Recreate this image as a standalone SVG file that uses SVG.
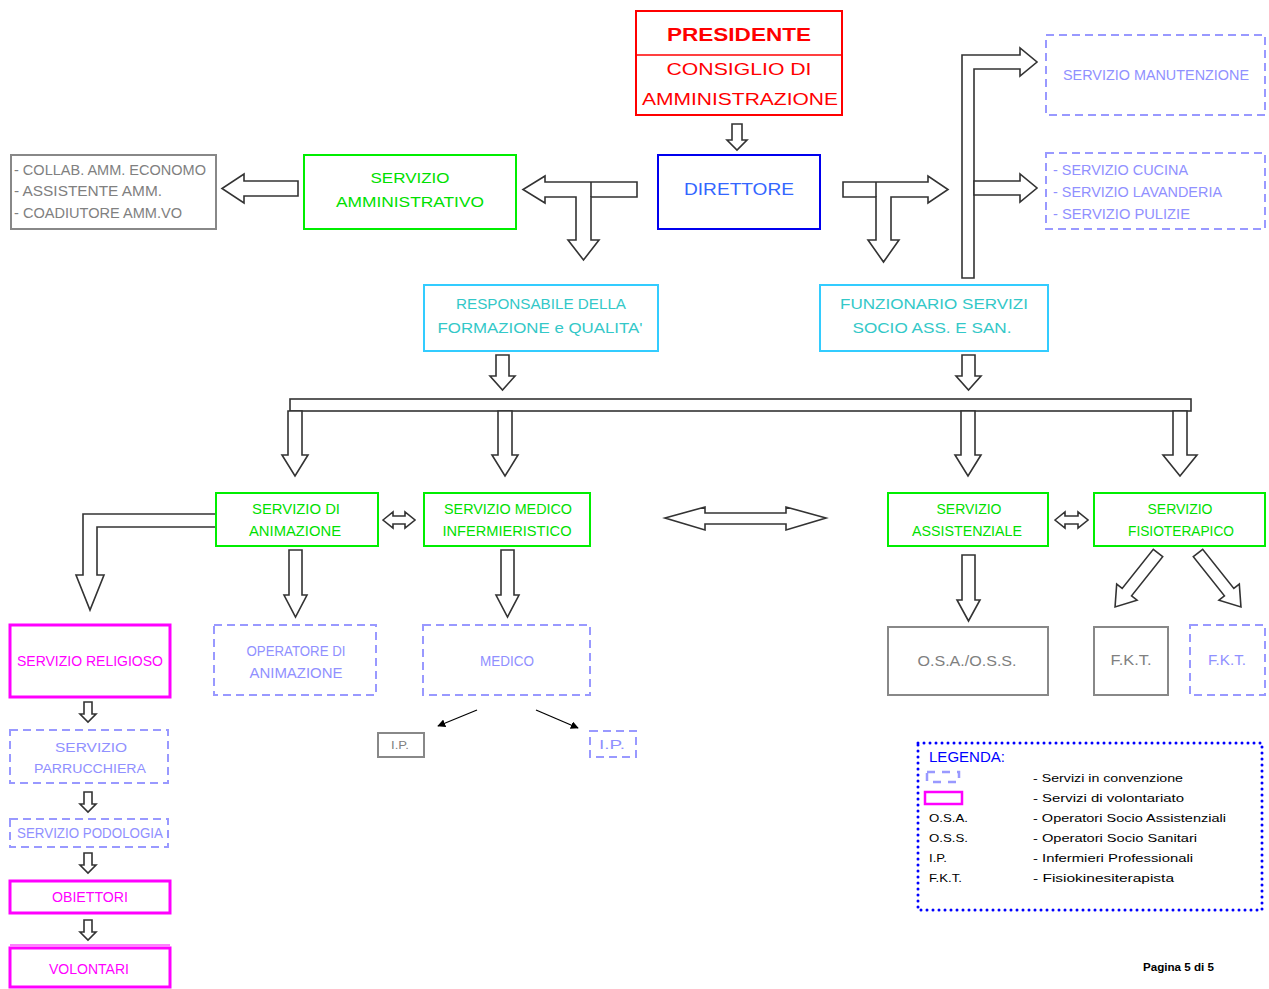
<svg xmlns="http://www.w3.org/2000/svg" width="1269" height="989" viewBox="0 0 1269 989">
<style>
text{font-family:"Liberation Sans",Arial,sans-serif;font-size:14px}
.c{text-anchor:middle}
.red{fill:#ff0000}
.grn{fill:#00e000}
.lav{fill:#9090ff}
.tea{fill:#33c8c8}
.gry{fill:#808080}
.mag{fill:#ff00ff}
.blk{fill:#000}
.bx-g{fill:#fff;stroke:#00ee00;stroke-width:2}
.bx-l{fill:#fff;stroke:#9999ff;stroke-width:2;stroke-dasharray:8 5}
.bx-c{fill:#fff;stroke:#33ccff;stroke-width:2}
.bx-y{fill:#fff;stroke:#888;stroke-width:2}
.bx-m{fill:#fff;stroke:#ff00ff;stroke-width:3}
.ar{fill:#fff;stroke:#333;stroke-width:1.6;stroke-linejoin:miter}
.th{stroke:#000;stroke-width:1.3;fill:none}
</style>
<defs>
<marker id="ah" viewBox="0 0 10 10" refX="9" refY="5" markerWidth="8" markerHeight="8" orient="auto" markerUnits="userSpaceOnUse"><path d="M0,0 L10,5 L0,10 z" fill="#000"/></marker>
</defs>
<rect width="1269" height="989" fill="#fff"/>

<g id="connectors">
<polygon class="ar" points="732,124 742,124 742,140 747,140 737,150 727,140 732,140"/>
<polygon class="ar" points="298,181 298,196 244,196 244,203 222,188.5 244,174 244,181"/>
<polygon class="ar" points="637,182 637,197 591,197 591,240 599,240 583.5,260 568,240 576,240 576,197 545,197 545,203 523,189.5 545,176 545,182"/>
<line x1="591" y1="182" x2="591" y2="197" stroke="#333" stroke-width="1.6"/>
<polygon class="ar" points="843,182 843,197 876,197 876,240 868,240 883.5,262 899,240 891,240 891,197 928,197 928,203 948,189.5 928,176 928,182"/>
<line x1="876" y1="182" x2="876" y2="197" stroke="#333" stroke-width="1.6"/>
<polygon class="ar" points="962,278 962,55 1020,55 1020,48 1037,62 1020,76 1020,69 974,69 974,278"/>
<polygon class="ar" points="974,181 1020,181 1020,174 1037,188 1020,202 1020,195 974,195"/>
<polygon class="ar" points="496,355 509,355 509,376 515,376 502.5,390 490,376 496,376"/>
<polygon class="ar" points="962,355 975,355 975,376 981,376 968.5,390 956,376 962,376"/>
<rect class="ar" x="290" y="399" width="901" height="12"/>
<polygon class="ar" points="288,411 302,411 302,455 308,455 295,476 282,455 288,455"/>
<polygon class="ar" points="498,411 512,411 512,455 518,455 505,476 492,455 498,455"/>
<polygon class="ar" points="961,411 975,411 975,455 981,455 968,476 955,455 961,455"/>
<polygon class="ar" points="1173,411 1187,411 1187,455 1197,455 1180,476 1163,455 1173,455"/>
<polygon class="ar" points="383,520 393,512 393,516 405,516 405,512 415,520 405,528 405,524 393,524 393,528"/>
<polygon class="ar" points="1055,520 1065,512 1065,516 1078,516 1078,512 1088,520 1078,528 1078,524 1065,524 1065,528"/>
<polygon class="ar" points="665,518 705,507 705,513 786,513 786,507 826,518 786,530 786,524 705,524 705,530"/>
<polygon class="ar" points="216,514 83,514 83,575 76,575 90,610 104,575 97,575 97,527 216,527"/>
<polygon class="ar" points="289,550 302,550 302,595 307,595 295.5,617 284,595 289,595"/>
<polygon class="ar" points="501,550 514,550 514,595 519,595 507.5,617 496,595 501,595"/>
<polygon class="ar" points="962,555 975,555 975,600 980,600 968.5,621 957,600 962,600"/>
<polygon class="ar" transform="translate(1158,553) rotate(38.5)" points="-6,0 6,0 6,50 13,50 0,69 -13,50 -6,50"/>
<polygon class="ar" transform="translate(1198,553) rotate(-38.5)" points="-6,0 6,0 6,50 13,50 0,69 -13,50 -6,50"/>
<line class="th" x1="477" y1="710" x2="438" y2="726" marker-end="url(#ah)"/>
<line class="th" x1="536" y1="710" x2="578" y2="728" marker-end="url(#ah)"/>
<polygon class="ar" points="84,702 92,702 92,714 96,714 88,722 80,714 84,714"/>
<polygon class="ar" points="84,792 92,792 92,804 96,804 88,812 80,804 84,804"/>
<polygon class="ar" points="84,853 92,853 92,865 96,865 88,873 80,865 84,865"/>
<polygon class="ar" points="84,920 92,920 92,932 96,932 88,940 80,932 84,932"/>
</g>

<g id="presidente">
<rect x="636" y="11" width="206" height="104" fill="#fff" stroke="#ff0000" stroke-width="2"/>
<line x1="636" y1="55" x2="842" y2="55" stroke="#ff0000" stroke-width="1.5"/>
<text class="c red" x="739" y="41" font-weight="bold" style="font-size:19px" textLength="144" lengthAdjust="spacingAndGlyphs">PRESIDENTE</text>
<text class="c red" x="739" y="75" style="font-size:17px" textLength="145" lengthAdjust="spacingAndGlyphs">CONSIGLIO DI</text>
<text class="c red" x="740" y="105" style="font-size:17px" textLength="196" lengthAdjust="spacingAndGlyphs">AMMINISTRAZIONE</text>
</g>

<g id="direttore">
<rect x="658" y="155" width="162" height="74" fill="#fff" stroke="#0000ee" stroke-width="2"/>
<text class="c" x="739" y="195" fill="#3366ff" style="font-size:17px" textLength="110" lengthAdjust="spacingAndGlyphs">DIRETTORE</text>
</g>

<g id="servizio-amministrativo">
<rect class="bx-g" x="304" y="155" width="212" height="74"/>
<text class="c grn" x="410" y="183" textLength="79" lengthAdjust="spacingAndGlyphs">SERVIZIO</text>
<text class="c grn" x="410" y="207" textLength="148" lengthAdjust="spacingAndGlyphs">AMMINISTRATIVO</text>
</g>

<g id="amministrativi">
<rect class="bx-y" x="11" y="155" width="205" height="74"/>
<text class="gry" x="14" y="175" textLength="192" lengthAdjust="spacingAndGlyphs">- COLLAB. AMM. ECONOMO</text>
<text class="gry" x="14" y="196" textLength="148" lengthAdjust="spacingAndGlyphs">- ASSISTENTE AMM.</text>
<text class="gry" x="14" y="218" textLength="168" lengthAdjust="spacingAndGlyphs">- COADIUTORE AMM.VO</text>
</g>

<g id="manutenzione">
<rect class="bx-l" x="1046" y="35" width="219" height="80"/>
<text class="c lav" x="1156" y="80" textLength="186" lengthAdjust="spacingAndGlyphs">SERVIZIO MANUTENZIONE</text>
</g>

<g id="cucina">
<rect class="bx-l" x="1046" y="153" width="219" height="76" stroke-width="3"/>
<text class="lav" x="1053" y="175" textLength="135" lengthAdjust="spacingAndGlyphs">- SERVIZIO CUCINA</text>
<text class="lav" x="1053" y="197" textLength="169" lengthAdjust="spacingAndGlyphs">- SERVIZIO LAVANDERIA</text>
<text class="lav" x="1053" y="219" textLength="137" lengthAdjust="spacingAndGlyphs">- SERVIZIO PULIZIE</text>
</g>

<g id="responsabile">
<rect class="bx-c" x="424" y="285" width="234" height="66"/>
<text class="c tea" x="541" y="309" textLength="170" lengthAdjust="spacingAndGlyphs">RESPONSABILE DELLA</text>
<text class="c tea" x="540" y="333" textLength="205" lengthAdjust="spacingAndGlyphs">FORMAZIONE e QUALITA'</text>
</g>

<g id="funzionario">
<rect class="bx-c" x="820" y="285" width="228" height="66"/>
<text class="c tea" x="934" y="309" textLength="188" lengthAdjust="spacingAndGlyphs">FUNZIONARIO SERVIZI</text>
<text class="c tea" x="932" y="333" textLength="159" lengthAdjust="spacingAndGlyphs">SOCIO ASS. E SAN.</text>
</g>

<g id="animazione">
<rect class="bx-g" x="216" y="493" width="162" height="53"/>
<text class="c grn" x="296" y="514" textLength="88" lengthAdjust="spacingAndGlyphs">SERVIZIO DI</text>
<text class="c grn" x="295" y="536" textLength="92" lengthAdjust="spacingAndGlyphs">ANIMAZIONE</text>
</g>

<g id="medico-infermieristico">
<rect class="bx-g" x="424" y="493" width="166" height="53"/>
<text class="c grn" x="508" y="514" textLength="128" lengthAdjust="spacingAndGlyphs">SERVIZIO MEDICO</text>
<text class="c grn" x="507" y="536" textLength="129" lengthAdjust="spacingAndGlyphs">INFERMIERISTICO</text>
</g>

<g id="assistenziale">
<rect class="bx-g" x="888" y="493" width="160" height="53"/>
<text class="c grn" x="969" y="514" textLength="65" lengthAdjust="spacingAndGlyphs">SERVIZIO</text>
<text class="c grn" x="967" y="536" textLength="110" lengthAdjust="spacingAndGlyphs">ASSISTENZIALE</text>
</g>

<g id="fisioterapico">
<rect class="bx-g" x="1094" y="493" width="171" height="53"/>
<text class="c grn" x="1180" y="514" textLength="65" lengthAdjust="spacingAndGlyphs">SERVIZIO</text>
<text class="c grn" x="1181" y="536" textLength="106" lengthAdjust="spacingAndGlyphs">FISIOTERAPICO</text>
</g>

<g id="religioso">
<rect class="bx-m" x="10" y="625" width="160" height="72"/>
<text class="c mag" x="90" y="666" textLength="146" lengthAdjust="spacingAndGlyphs">SERVIZIO RELIGIOSO</text>
</g>

<g id="operatore-animazione">
<rect class="bx-l" x="214" y="625" width="162" height="70" stroke-width="2.5"/>
<text class="c lav" x="296" y="656" textLength="99" lengthAdjust="spacingAndGlyphs">OPERATORE DI</text>
<text class="c lav" x="296" y="678" textLength="93" lengthAdjust="spacingAndGlyphs">ANIMAZIONE</text>
</g>

<g id="medico">
<rect class="bx-l" x="423" y="625" width="167" height="70" stroke-width="2.5"/>
<text class="c lav" x="507" y="666" textLength="54" lengthAdjust="spacingAndGlyphs">MEDICO</text>
</g>

<g id="osa-oss">
<rect class="bx-y" x="888" y="627" width="160" height="68"/>
<text class="c gry" x="967" y="666" textLength="99" lengthAdjust="spacingAndGlyphs">O.S.A./O.S.S.</text>
</g>

<g id="fkt-1">
<rect class="bx-y" x="1094" y="627" width="74" height="68"/>
<text class="c gry" x="1131" y="665" textLength="41" lengthAdjust="spacingAndGlyphs">F.K.T.</text>
</g>

<g id="fkt-2">
<rect class="bx-l" x="1190" y="625" width="75" height="70"/>
<text class="c lav" x="1227" y="665" textLength="38" lengthAdjust="spacingAndGlyphs">F.K.T.</text>
</g>

<g id="ip-1">
<rect class="bx-y" x="378" y="733" width="46" height="24" stroke-width="1.5"/>
<text class="c gry" x="400" y="749" style="font-size:11px" textLength="18" lengthAdjust="spacingAndGlyphs">I.P.</text>
</g>

<g id="ip-2">
<rect class="bx-l" x="590" y="731" width="46" height="26" stroke-dasharray="5 3" stroke-width="1.5"/>
<text class="c lav" x="612" y="749" style="font-size:12px" textLength="26" lengthAdjust="spacingAndGlyphs">I.P.</text>
</g>

<g id="parrucchiera">
<rect class="bx-l" x="10" y="730" width="158" height="53" stroke-width="1.5"/>
<text class="c lav" x="91" y="752" style="font-size:12px" textLength="72" lengthAdjust="spacingAndGlyphs">SERVIZIO</text>
<text class="c lav" x="90" y="773" style="font-size:12px" textLength="112" lengthAdjust="spacingAndGlyphs">PARRUCCHIERA</text>
</g>

<g id="podologia">
<rect class="bx-l" x="10" y="819" width="158" height="28" stroke-width="1.5"/>
<text class="c lav" x="90" y="838" textLength="146" lengthAdjust="spacingAndGlyphs">SERVIZIO PODOLOGIA</text>
</g>

<g id="obiettori">
<rect class="bx-m" x="10" y="881" width="160" height="32"/>
<text class="c mag" x="90" y="902" textLength="76" lengthAdjust="spacingAndGlyphs">OBIETTORI</text>
</g>

<g id="volontari">
<rect class="bx-m" x="10" y="948" width="160" height="39"/>
<line x1="10" y1="945" x2="170" y2="945" stroke="#ff00ff" stroke-width="1"/>
<text class="c mag" x="89" y="974" textLength="80" lengthAdjust="spacingAndGlyphs">VOLONTARI</text>
</g>

<g id="legenda">
<rect x="918" y="743" width="344" height="167" fill="none" stroke="#0000ff" stroke-width="3" stroke-linecap="round" stroke-dasharray="0 6"/>
<text x="929" y="762" fill="#0000ff" textLength="76" lengthAdjust="spacingAndGlyphs">LEGENDA:</text>
<rect x="927" y="772" width="32" height="10" fill="none" stroke="#9999ff" stroke-width="2.5" stroke-dasharray="8 7"/>
<rect x="925" y="792" width="37" height="12" fill="none" stroke="#ff00ff" stroke-width="2.5"/>
<g style="font-size:11px" class="blk">
<text x="929" y="822" style="font-size:11px" textLength="39" lengthAdjust="spacingAndGlyphs">O.S.A.</text>
<text x="929" y="842" style="font-size:11px" textLength="39" lengthAdjust="spacingAndGlyphs">O.S.S.</text>
<text x="929" y="862" style="font-size:11px" textLength="18" lengthAdjust="spacingAndGlyphs">I.P.</text>
<text x="929" y="882" style="font-size:11px" textLength="33" lengthAdjust="spacingAndGlyphs">F.K.T.</text>
<text x="1033" y="782" style="font-size:11px" textLength="150" lengthAdjust="spacingAndGlyphs">- Servizi in convenzione</text>
<text x="1033" y="802" style="font-size:11px" textLength="151" lengthAdjust="spacingAndGlyphs">- Servizi di volontariato</text>
<text x="1033" y="822" style="font-size:11px" textLength="193" lengthAdjust="spacingAndGlyphs">- Operatori Socio Assistenziali</text>
<text x="1033" y="842" style="font-size:11px" textLength="164" lengthAdjust="spacingAndGlyphs">- Operatori Socio Sanitari</text>
<text x="1033" y="862" style="font-size:11px" textLength="160" lengthAdjust="spacingAndGlyphs">- Infermieri Professionali</text>
<text x="1033" y="882" style="font-size:11px" textLength="141" lengthAdjust="spacingAndGlyphs">- Fisiokinesiterapista</text>
</g>
</g>

<text x="1143" y="971" font-weight="bold" style="font-size:10px" textLength="71" lengthAdjust="spacingAndGlyphs">Pagina 5 di 5</text>
</svg>
